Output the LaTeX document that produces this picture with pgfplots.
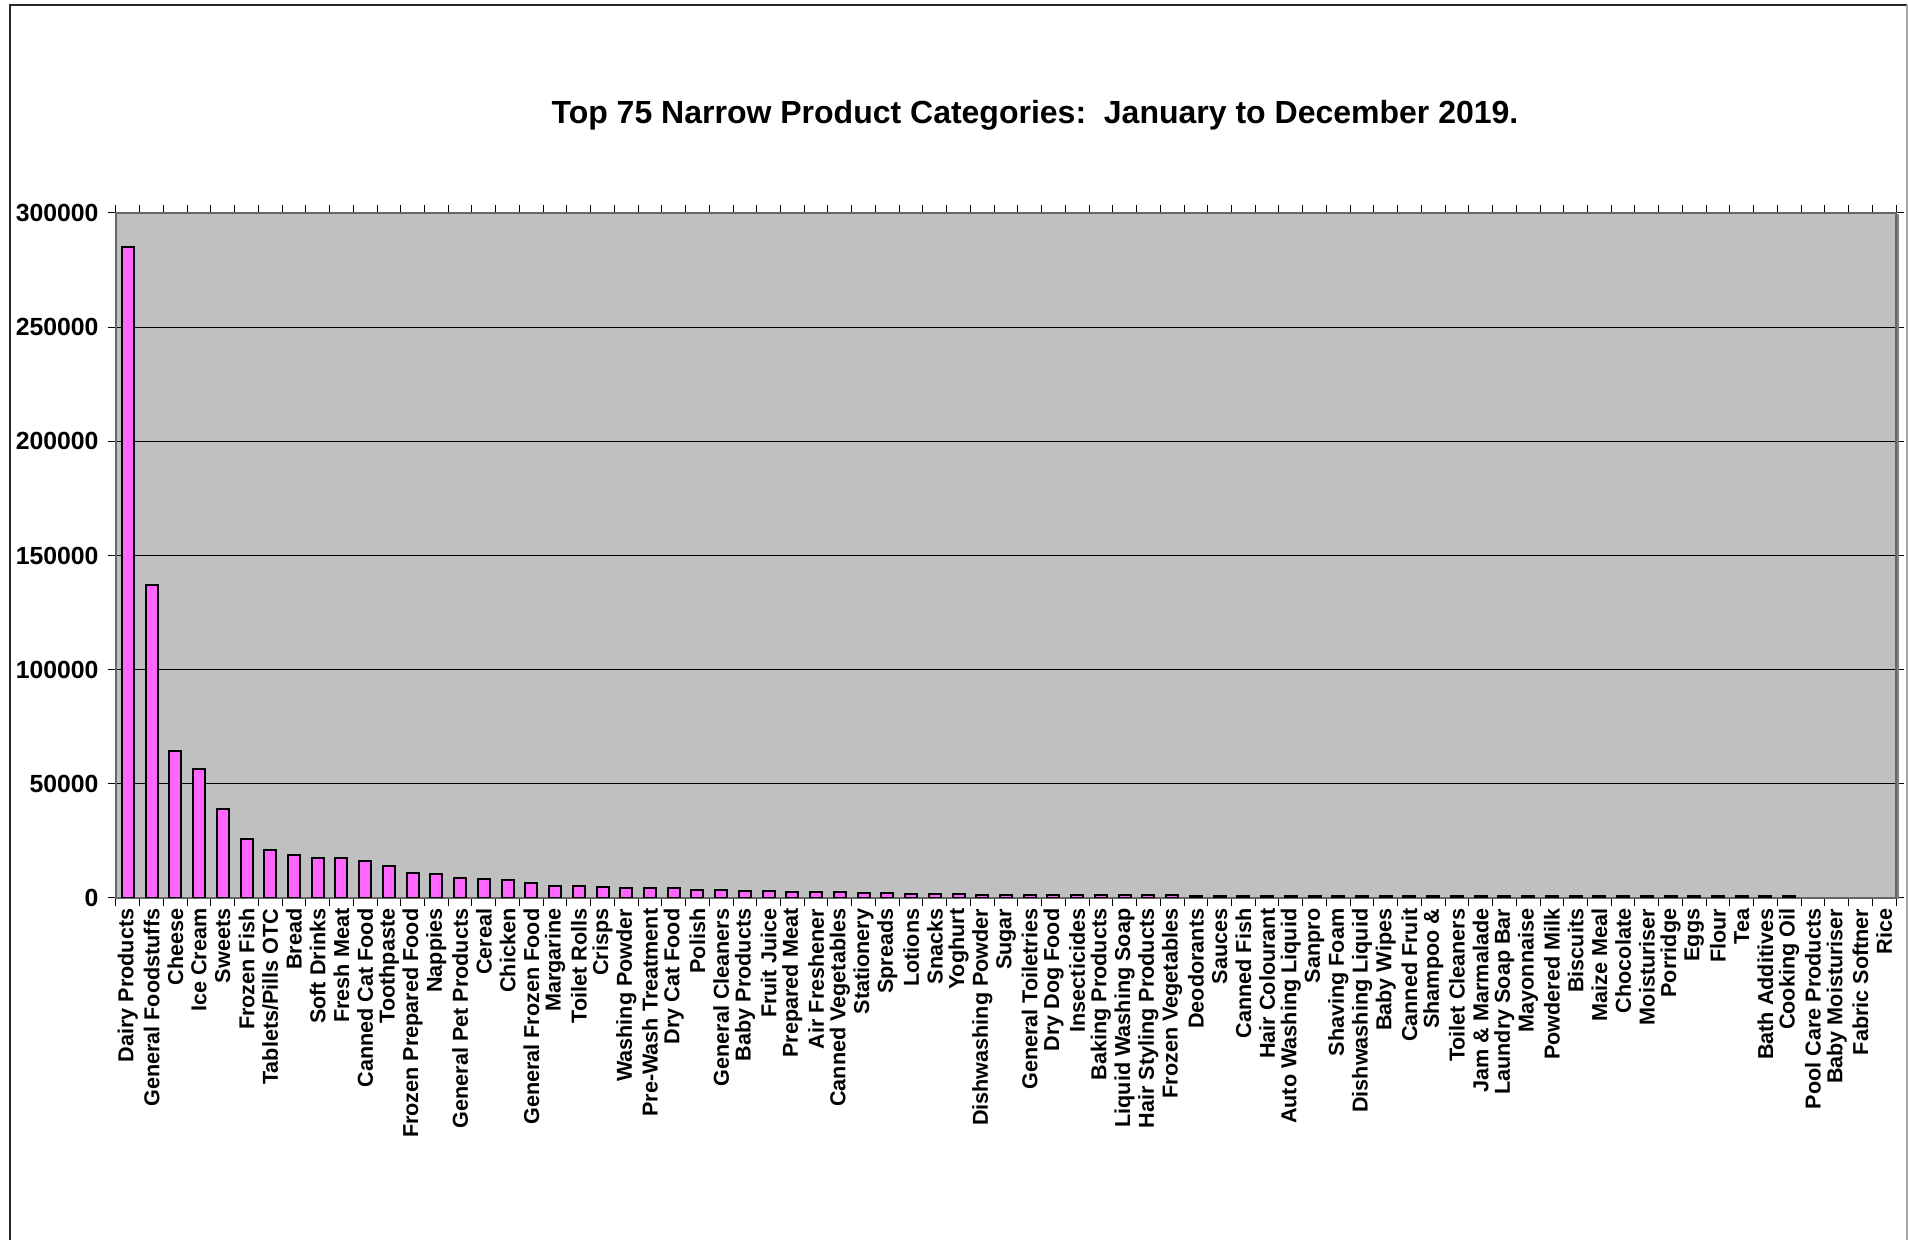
\documentclass[border=0pt]{standalone}
\usepackage{pgfplots}
\pgfplotsset{compat=1.18}
\usepackage{fontspec}
\setmainfont{Liberation Sans}
\definecolor{barpink}{HTML}{FF66FF}
\definecolor{plotgray}{HTML}{C0C0C0}
\begin{document}
\begin{tikzpicture}
\path[use as bounding box] (-58pt,-171pt) rectangle (896pt,449pt);
\draw[line width=1pt, black!85] (-53pt,-175pt) -- (-53pt,446.5pt) -- (895.5pt,446.5pt);
\draw[line width=0.8pt, black!35] (895.5pt,446.5pt) -- (895.5pt,-175pt);
\node[font=\bfseries\fontsize{16}{19}\selectfont] at (459.5pt,391.3pt) {Top 75 Narrow Product Categories:\ \ January to December 2019.};
\begin{axis}[
  scale only axis, width=890pt, height=342.5pt,
  xmin=0.5, xmax=75.5, ymin=0, ymax=300000, enlargelimits=false,
  axis background/.style={fill=plotgray},
  ybar, bar width=6pt,
  ytick={0,50000,100000,150000,200000,250000,300000},
  yticklabels={0,50000,100000,150000,200000,250000,300000},
  scaled y ticks=false,
  ymajorgrids, grid style={black, line width=0.5pt},
  tick align=outside, major tick length=4pt,
  tick style={black, line width=0.5pt},
  xtick={0.5,1.5,...,75.5}, xticklabel={\mbox{}},
  extra x ticks={1,...,75},
  extra x tick style={major tick length=0pt, grid=none,
    tick label style={rotate=90, anchor=east, xshift=-1.8pt, font=\bfseries\fontsize{10.8}{12}\selectfont}},
  extra x tick labels={Dairy Products,General Foodstuffs,Cheese,Ice Cream,Sweets,Frozen Fish,Tablets/Pills OTC,Bread,Soft Drinks,Fresh Meat,Canned Cat Food,Toothpaste,Frozen Prepared Food,Nappies,General Pet Products,Cereal,Chicken,General Frozen Food,Margarine,Toilet Rolls,Crisps,Washing Powder,Pre-Wash Treatment,Dry Cat Food,Polish,General Cleaners,Baby Products,Fruit Juice,Prepared Meat,Air Freshener,Canned Vegetables,Stationery,Spreads,Lotions,Snacks,Yoghurt,Dishwashing Powder,Sugar,General Toiletries,Dry Dog Food,Insecticides,Baking Products,Liquid Washing Soap,Hair Styling Products,Frozen Vegetables,Deodorants,Sauces,Canned Fish,Hair Colourant,Auto Washing Liquid,Sanpro,Shaving Foam,Dishwashing Liquid,Baby Wipes,Canned Fruit,Shampoo \&,Toilet Cleaners,Jam \& Marmalade,Laundry Soap Bar,Mayonnaise,Powdered Milk,Biscuits,Maize Meal,Chocolate,Moisturiser,Porridge,Eggs,Flour,Tea,Bath Additives,Cooking Oil,Pool Care Products,Baby Moisturiser,Fabric Softner,Rice},
  yticklabel style={xshift=-1.2pt, font=\bfseries\fontsize{12.4}{14}\selectfont},
  axis line style={black!60, line width=1pt},
]
\addplot[fill=barpink, draw=black, line width=1pt] coordinates {
(1,285000) (2,137000) (3,64500) (4,56500) (5,39000) (6,25800) (7,21000) (8,18900) (9,17500) (10,17400)
(11,16200) (12,14200) (13,11100) (14,10400) (15,8900) (16,8400) (17,7800) (18,6700) (19,5400) (20,5400)
(21,5000) (22,4500) (23,4500) (24,4200) (25,3400) (26,3300) (27,3100) (28,2850) (29,2800) (30,2800)
(31,2550) (32,2250) (33,2000) (34,1950) (35,1700) (36,1650) (37,1500) (38,1450) (39,1250) (40,1250)
(41,1200) (42,1200) (43,1150) (44,1150) (45,1100) (46,950) (47,950) (48,900) (49,900) (50,900)
(51,850) (52,850) (53,850) (54,820) (55,820) (56,800) (57,800) (58,800) (59,780) (60,780)
(61,760) (62,760) (63,750) (64,750) (65,740) (66,740) (67,720) (68,720) (69,710) (70,700)
(71,700)
};
\end{axis}
\draw[line width=1.4pt, black!50] (891pt,-0.5pt) -- (891pt,342pt);
\end{tikzpicture}
\end{document}
